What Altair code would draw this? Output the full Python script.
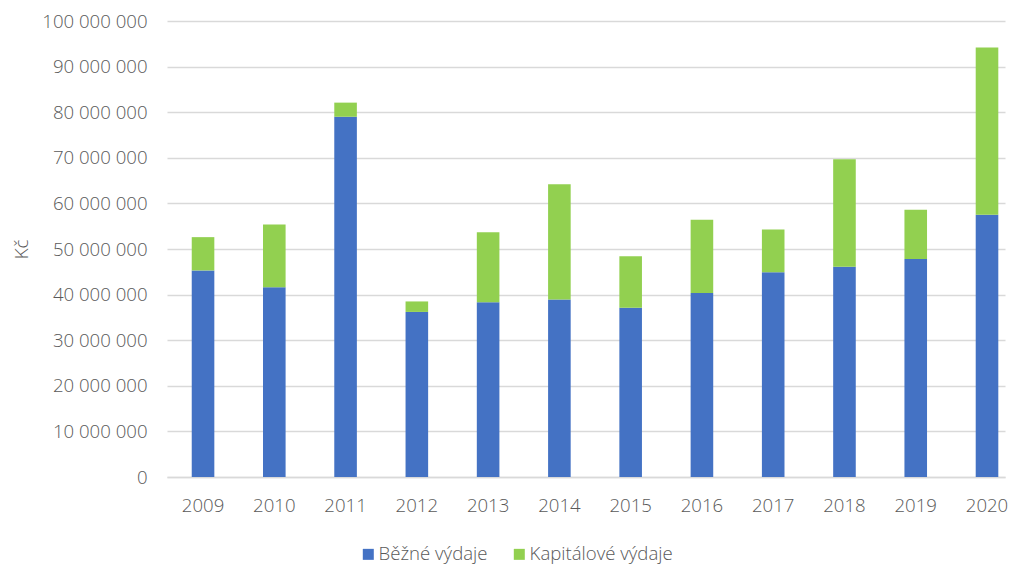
import altair as alt
import pandas as pd

years = ["2009", "2010", "2011", "2012", "2013", "2014", "2015", "2016", "2017", "2018", "2019", "2020"]
bezne = [45.3, 41.6, 79.0, 36.2, 38.3, 38.9, 37.1, 40.35, 44.9, 46.1, 47.8, 57.5]
totals = [52.6, 55.4, 82.1, 38.5, 53.7, 64.2, 48.4, 56.4, 54.3, 69.7, 58.6, 94.2]
kapitalove = [round(t - b, 2) for t, b in zip(totals, bezne)]
series = ["Běžné výdaje", "Kapitálové výdaje"]
colors = ["#4472C4", "#92D050"]

rows = []
for y, b, k in zip(years, bezne, kapitalove):
    rows.append({"rok": y, "serie": series[0], "poradi": 0, "hodnota": b * 1_000_000})
    rows.append({"rok": y, "serie": series[1], "poradi": 1, "hodnota": k * 1_000_000})
df = pd.DataFrame(rows)

FONT = "Open Sans"
GREY = "#595959"

chart = alt.Chart(df).mark_bar().encode(
    x=alt.X("rok:N", sort=years, title=None,
            scale=alt.Scale(paddingInner=0.683, paddingOuter=0.2205, align=0.787),
            axis=alt.Axis(labelAngle=0, ticks=False, tickSize=0, labelPadding=19,
                          domain=True, domainColor="#d9d9d9", domainWidth=1.3,
                          grid=False)),
    y=alt.Y("sum(hodnota):Q", title="Kč", stack="zero",
            scale=alt.Scale(domain=[0, 100_000_000], nice=False),
            axis=alt.Axis(values=list(range(0, 100_000_001, 10_000_000)),
                          labelExpr="replace(format(datum.value, ',d'), /,/g, ' ')",
                          ticks=False, tickSize=0, labelPadding=20, domain=False,
                          grid=True, gridColor="#d9d9d9", gridWidth=1.3,
                          titleX=-146, titleY=228, titleAngle=-90,
                          titleAlign="center", titleBaseline="middle")),
    color=alt.Color("serie:N", scale=alt.Scale(domain=series, range=colors),
                    legend=alt.Legend(title=None, orient="none", direction="horizontal",
                                      legendX=192, legendY=524, symbolType="square",
                                      symbolSize=121, symbolStrokeWidth=0,
                                      labelOffset=1, columnPadding=22, padding=0)),
    order=alt.Order("poradi:Q", sort="ascending"),
).properties(
    width=838,
    height=456,
    autosize=alt.AutoSizeParams(type="none"),
    padding={"left": 159, "top": 13, "right": 4, "bottom": 94},
).configure_view(
    stroke=None
).configure_axis(
    labelFont=FONT, labelFontSize=18.6, labelColor=GREY, labelFontWeight=300,
    titleFont=FONT, titleFontSize=18.6, titleColor=GREY, titleFontWeight=300,
).configure_legend(
    labelFont=FONT, labelFontSize=18.6, labelColor=GREY, labelFontWeight=300,
)

chart.save("out.html", embed_options={"renderer": "svg", "actions": False})
